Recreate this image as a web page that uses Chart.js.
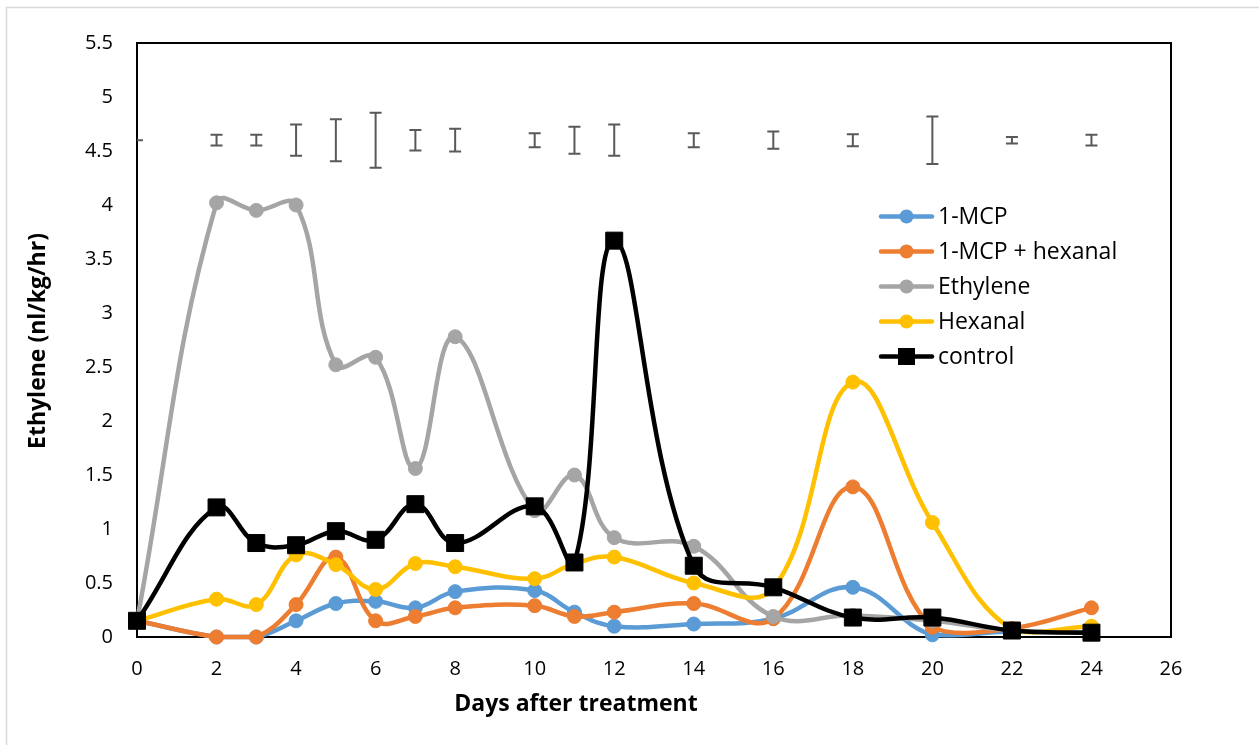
<!DOCTYPE html>
<html>
<head>
<meta charset="utf-8">
<script src="https://cdn.jsdelivr.net/npm/chart.js@4"></script>
<style>
  html, body { margin: 0; padding: 0; background: #fff; }
</style>
</head>
<body>
<canvas id="line-chart" width="1259" height="745"></canvas>
<script>
const days = [0, 2, 3, 4, 5, 6, 7, 8, 10, 11, 12, 14, 16, 18, 20, 22, 24]

const mcp = [0.15, 0, 0, 0.15, 0.31, 0.33, 0.27, 0.42, 0.43, 0.23, 0.10, 0.12, 0.17, 0.46, 0.02, 0.05, 0.04]
const mcpHexanal = [0.15, 0, 0, 0.30, 0.74, 0.15, 0.19, 0.27, 0.29, 0.19, 0.23, 0.31, 0.17, 1.39, 0.09, 0.08, 0.27]
const ethylene = [0.15, 4.02, 3.95, 4.0, 2.52, 2.59, 1.56, 2.78, 1.17, 1.5, 0.92, 0.84, 0.19, 0.2, 0.15, 0.06, 0.04]
const hexanal = [0.15, 0.35, 0.30, 0.76, 0.67, 0.44, 0.68, 0.65, 0.54, 0.68, 0.74, 0.50, 0.45, 2.36, 1.06, 0.07, 0.10]
const control = [0.15, 1.2, 0.87, 0.85, 0.98, 0.9, 1.23, 0.87, 1.21, 0.69, 3.67, 0.66, 0.46, 0.18, 0.18, 0.06, 0.04]

// error bars drawn in one row above the lines
const errCenter = [4.6, 4.6, 4.6, 4.6, 4.6, 4.6, 4.6, 4.6, 4.6, 4.6, 4.6, 4.6, 4.6, 4.6, 4.6, 4.6, 4.6]
const errHalf = [0, 0.05, 0.05, 0.145, 0.195, 0.255, 0.095, 0.105, 0.065, 0.125, 0.145, 0.065, 0.08, 0.055, 0.22, 0.03, 0.05]

const seriesNames = ['1-MCP', '1-MCP + hexanal', 'Ethylene', 'Hexanal', 'control']
const seriesColors = ['#5B9BD5', '#ED7D31', '#A5A5A5', '#FFC000', '#000000']
const seriesValues = [mcp, mcpHexanal, ethylene, hexanal, control]

const xTitle = 'Days after treatment'
const yTitle = 'Ethylene (nl/kg/hr)'

const FONT = '"Open Sans", "Noto Sans", sans-serif'

function toPoints (values) {
  return days.map(function (d, i) { return { x: d, y: values[i] } })
}

const datasets = seriesNames.map(function (name, i) {
  const isControl = name === 'control'
  return {
    label: name,
    data: toPoints(seriesValues[i]),
    borderColor: seriesColors[i],
    backgroundColor: seriesColors[i],
    borderWidth: 4.5,
    tension: 0.4,
    pointStyle: isControl ? 'rect' : 'circle',
    pointRadius: isControl ? 12 : 7,
    pointBorderWidth: 1,
    order: seriesNames.length - i,
    clip: 12,
  }
})

const framePlugin = {
  id: 'frame',
  beforeDatasetsDraw (chart) {
    const ctx = chart.ctx
    const a = chart.chartArea
    ctx.save()
    // outer chart border
    ctx.strokeStyle = '#D9D9D9'
    ctx.lineWidth = 1.5
    ctx.strokeRect(6.5, 7.5, 1260, 745)
    // plot area box
    ctx.strokeStyle = '#000'
    ctx.lineWidth = 2
    ctx.strokeRect(a.left, a.top, a.right - a.left, a.bottom - a.top)

    // error bars
    const xs = chart.scales.x
    const ys = chart.scales.y
    ctx.beginPath()
    ctx.rect(a.left, a.top, a.right - a.left, a.bottom - a.top)
    ctx.clip()
    ctx.strokeStyle = '#595959'
    ctx.lineWidth = 2
    for (let i = 0; i < days.length; i++) {
      const px = xs.getPixelForValue(days[i])
      const top = ys.getPixelForValue(errCenter[i] + errHalf[i])
      const bot = ys.getPixelForValue(errCenter[i] - errHalf[i])
      ctx.beginPath()
      ctx.moveTo(px, top)
      ctx.lineTo(px, bot)
      ctx.moveTo(px - 6, top)
      ctx.lineTo(px + 6, top)
      ctx.moveTo(px - 6, bot)
      ctx.lineTo(px + 6, bot)
      ctx.stroke()
    }
    ctx.restore()
  },
  afterDraw (chart) {
    const ctx = chart.ctx
    ctx.save()
    ctx.fillStyle = '#000'
    ctx.font = 'bold 23px ' + FONT
    ctx.textAlign = 'center'
    ctx.textBaseline = 'middle'
    ctx.fillText(xTitle, 576, 704)
    ctx.translate(38, 341)
    ctx.rotate(-Math.PI / 2)
    ctx.fillText(yTitle, 0, 0)
    ctx.restore()

    // legend
    ctx.save()
    ctx.font = '23px ' + FONT
    ctx.textBaseline = 'middle'
    ctx.textAlign = 'left'
    for (let i = 0; i < seriesNames.length; i++) {
      const y = 216.5 + i * 35
      ctx.strokeStyle = seriesColors[i]
      ctx.fillStyle = seriesColors[i]
      ctx.lineWidth = 4.5
      ctx.lineCap = 'round'
      ctx.beginPath()
      ctx.moveTo(881, y)
      ctx.lineTo(932, y)
      ctx.stroke()
      if (seriesNames[i] === 'control') {
        ctx.fillRect(898, y - 8.5, 17, 17)
      } else {
        ctx.beginPath()
        ctx.arc(906.5, y, 7, 0, Math.PI * 2)
        ctx.fill()
      }
      ctx.fillStyle = '#000'
      ctx.fillText(seriesNames[i], 938, y + 1)
    }
    ctx.restore()
  },
}

const tickFont = { family: FONT, size: 20 }

const config = {
  type: 'line',
  data: { datasets: datasets },
  options: {
    responsive: false,
    animation: false,
    devicePixelRatio: 1,
    layout: { padding: { top: 43, right: 88, bottom: 0, left: 0 } },
    plugins: {
      legend: { display: false },
      tooltip: { enabled: false },
    },
    scales: {
      x: {
        type: 'linear',
        min: 0,
        max: 26,
        ticks: { stepSize: 2, padding: 20, font: tickFont, color: '#000' },
        grid: { display: false, drawTicks: false },
        border: { display: false },
        afterFit: function (scale) { scale.height = 108 },
      },
      y: {
        min: 0,
        max: 5.5,
        ticks: {
          stepSize: 0.5,
          padding: 24,
          font: tickFont,
          color: '#000',
          callback: function (value) { return String(value) },
        },
        grid: { display: false, drawTicks: false },
        border: { display: false },
        afterFit: function (scale) { scale.width = 137 },
      },
    },
  },
  plugins: [framePlugin],
}

const ctx = document.getElementById('line-chart').getContext('2d')
const myChart = new Chart(ctx, config)
</script>
</body>
</html>
